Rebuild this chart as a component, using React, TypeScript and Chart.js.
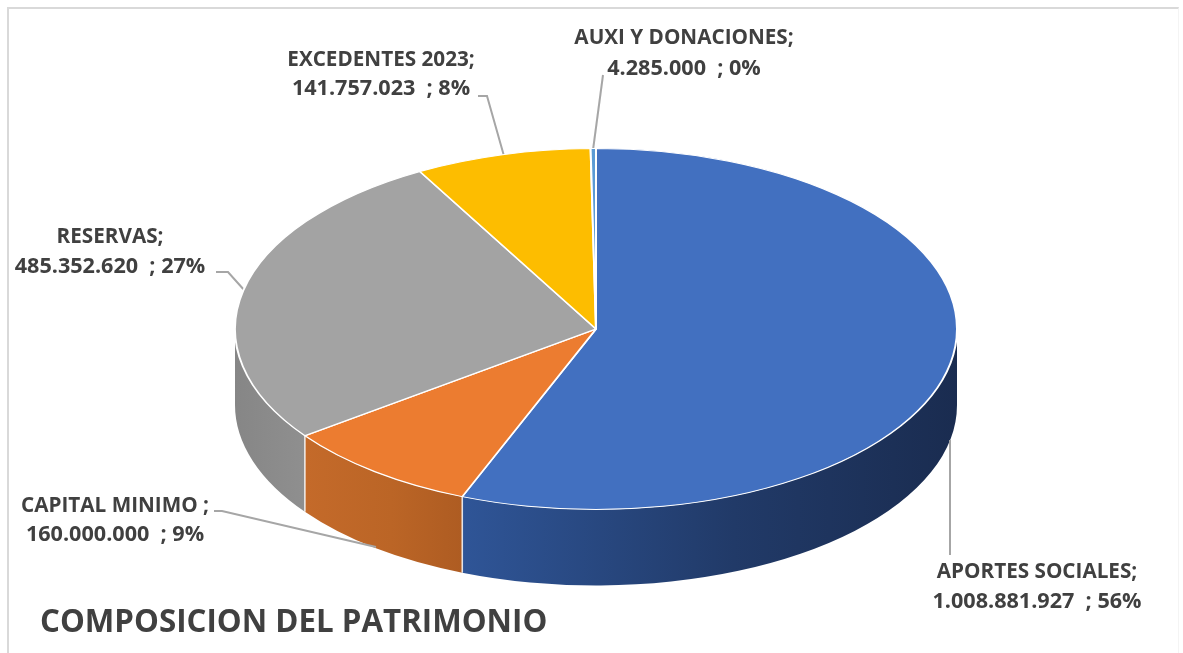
import React, { useEffect, useRef } from "react";
import { Chart, registerables } from "chart.js";

Chart.register(...registerables);

const categories = ["APORTES SOCIALES", "CAPITAL MINIMO ", "RESERVAS", "EXCEDENTES 2023", "AUXI Y DONACIONES"];
const seriesValues = [1008881927, 160000000, 485352620, 141757023, 4285000];
const topColors = ["#4270c0", "#ec7c30", "#a3a3a3", "#fdbd00", "#5b9bd5"];
const wallStops = [
  ["#2f5597", "#213a68", "#1a2c50"],
  ["#c46a2a", "#bb6526", "#ae5c22"],
  ["#868686", "#8b8b8b", "#8f8f8f"],
  ["#997300", "#997300", "#997300"],
  ["#2e75b6", "#2e75b6", "#2e75b6"],
];
const titleText = "COMPOSICION DEL PATRIMONIO";

const Y_SQUASH = 0.5;
const DEPTH = 76;
const INK = "#404040";
const LEADER = "#a6a6a6";
const NAME_FONT = 'bold 20.7px "Open Sans"';
const VALUE_FONT = 'bold 21.6px "Open Sans"';
const TITLE_FONT = 'bold 31.3px "Open Sans"';

const labelPlacement = [
  { x: 1037, y1: 572, y2: 602 },
  { x: 115, y1: 506, y2: 535 },
  { x: 110, y1: 237, y2: 267 },
  { x: 381, y1: 60, y2: 89 },
  { x: 684, y1: 38, y2: 69 },
];
const leaderPaths = [
  [[950, 440], [950, 555]],
  [[214, 511], [222, 511], [376, 547]],
  [[216, 272], [228, 272], [245, 291]],
  [[478, 96], [487, 96], [504, 156]],
  [[603, 75], [593, 150]],
];

const formatValue = (v: number) => String(v).replace(/\B(?=(\d{3})+(?!\d))/g, ".");

const pie3d = {
  id: "pie3d",
  beforeDatasetsDraw(chart: any) {
    const ctx = chart.ctx;
    const arcs = chart.getDatasetMeta(0).data;
    const { x: cx, y: cy, outerRadius: r } = arcs[0];
    const ry = r * Y_SQUASH;
    // side wall, only the part of each slice that faces the viewer
    arcs.forEach((arc: any, i: number) => {
      const a = Math.max(arc.startAngle, 0);
      const b = Math.min(arc.endAngle, Math.PI);
      if (b <= a) return;
      const xa = cx + r * Math.cos(a);
      const xb = cx + r * Math.cos(b);
      const g = ctx.createLinearGradient(Math.min(xa, xb), 0, Math.max(xa, xb), 0);
      const stops = wallStops[i];
      g.addColorStop(0, stops[0]);
      g.addColorStop(0.55, stops[1]);
      g.addColorStop(1, stops[2]);
      ctx.beginPath();
      ctx.ellipse(cx, cy, r, ry, 0, a, b);
      ctx.ellipse(cx, cy + DEPTH, r, ry, 0, b, a, true);
      ctx.closePath();
      ctx.fillStyle = g;
      ctx.fill();
    });
    // seams between slices on the wall
    arcs.forEach((arc: any) => {
      const a = arc.startAngle;
      if (a <= 0 || a >= Math.PI) return;
      const x = cx + r * Math.cos(a);
      const y = cy + ry * Math.sin(a);
      ctx.save();
      ctx.strokeStyle = "rgba(255,255,255,0.8)";
      ctx.lineWidth = 1.6;
      ctx.beginPath();
      ctx.moveTo(x, y);
      ctx.lineTo(x, y + DEPTH);
      ctx.stroke();
      ctx.restore();
    });
    // leaders sit under the pie top but over the page
    ctx.save();
    ctx.strokeStyle = LEADER;
    ctx.lineWidth = 2;
    leaderPaths.forEach((path) => {
      ctx.beginPath();
      path.forEach(([x, y], k) => (k ? ctx.lineTo(x, y) : ctx.moveTo(x, y)));
      ctx.stroke();
    });
    ctx.restore();
    // squash the library's own arcs into the ellipse
    ctx.save();
    ctx.translate(cx, cy);
    ctx.scale(1, Y_SQUASH);
    ctx.translate(-cx, -cy);
  },
  afterDatasetsDraw(chart: any) {
    const ctx = chart.ctx;
    ctx.restore();
    const total = seriesValues.reduce((s, v) => s + v, 0);
    ctx.save();
    ctx.fillStyle = INK;
    ctx.textAlign = "center";
    ctx.textBaseline = "middle";
    categories.forEach((name, i) => {
      const p = labelPlacement[i];
      const pct = Math.round((seriesValues[i] / total) * 100);
      ctx.font = NAME_FONT;
      ctx.fillText(`${name};`, p.x, p.y1);
      ctx.font = VALUE_FONT;
      ctx.fillText(`${formatValue(seriesValues[i])}  ; ${pct}%`, p.x, p.y2);
    });
    ctx.textAlign = "left";
    ctx.font = TITLE_FONT;
    ctx.fillText(titleText, 40, 623);
    ctx.restore();
  },
};

export default function App() {
  const ref = useRef<HTMLCanvasElement | null>(null);
  useEffect(() => {
    const chart = new Chart(ref.current as HTMLCanvasElement, {
      type: "pie",
      data: {
        labels: categories,
        datasets: [
          {
            data: seriesValues,
            backgroundColor: topColors,
            borderColor: "#ffffff",
            borderWidth: 2,
            clip: false,
          } as any,
        ],
      },
      options: {
        responsive: false,
        animation: false,
        radius: 361,
        layout: { padding: { left: 9, top: 5 } },
        plugins: { legend: { display: false }, tooltip: { enabled: false }, title: { display: false } },
      } as any,
      plugins: [pie3d as any],
    });
    return () => chart.destroy();
  }, []);
  return (
    <div style={{ position: "fixed", left: 0, top: 0, width: 1183, height: 653, background: "#fff", overflow: "hidden" }}>
      <canvas ref={ref} width={1183} height={653} style={{ display: "block" }} />
      <div
        style={{
          position: "absolute",
          left: 7,
          top: 7,
          right: 4,
          bottom: -4,
          borderLeft: "2px solid #d9d9d9",
          borderTop: "2px solid #d9d9d9",
          borderRight: "1px solid #f4f4f4",
          pointerEvents: "none",
        }}
      />
    </div>
  );
}
